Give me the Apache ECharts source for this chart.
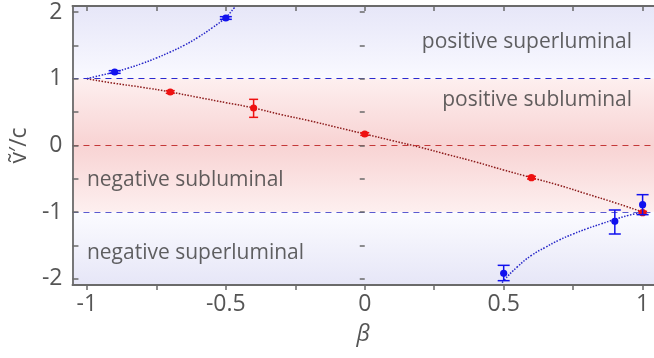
<!DOCTYPE html>
<html>
<head>
<meta charset="utf-8">
<script src="https://cdn.jsdelivr.net/npm/echarts@6/dist/echarts.min.js"></script>
<style>
  html, body { margin: 0; padding: 0; background: #fff; }
  #main { width: 654px; height: 358px; }
</style>
</head>
<body>
<div id="main"></div>
<script>
// tick positions / labels
var xTicks = [-1, -0.75, -0.5, -0.25, 0, 0.25, 0.5, 0.75, 1];
var xLabels = [-1, -0.5, 0, 0.5, 1];
var yTicks = [-2, -1.5, -1, -0.5, 0, 0.5, 1, 1.5, 2];
var yLabels = [-2, -1, 0, 1, 2];
var refLevels = [1, 0, -1];

// measured points: beta, v, low, high
var blueX = [-0.9, -0.5, 0.5, 0.9, 1.0];
var blueY = [1.10, 1.91, -1.92, -1.14, -0.89];
var blueLo = [1.08, 1.89, -2.03, -1.33, -1.04];
var blueHi = [1.12, 1.93, -1.80, -0.97, -0.74];

var redX = [-0.7, -0.4, 0, 0.6, 1.0];
var redY = [0.80, 0.56, 0.17, -0.485, -1.01];
var redLo = [0.78, 0.42, 0.15, -0.505, -1.03];
var redHi = [0.82, 0.69, 0.19, -0.465, -0.99];

// dotted guide curves
var redCurveX = [-1, -0.9, -0.8, -0.7, -0.6, -0.5, -0.4, -0.3, -0.2, -0.1, 0, 0.1, 0.2, 0.3, 0.4, 0.5, 0.6, 0.7, 0.8, 0.9, 1];
var redCurveY = [1.0, 0.93, 0.87, 0.80, 0.72, 0.64, 0.56, 0.46, 0.37, 0.27, 0.17, 0.07, -0.03, -0.14, -0.25, -0.37, -0.485, -0.60, -0.73, -0.86, -1.0];
var blueUpX = [-1, -0.95, -0.9, -0.85, -0.8, -0.75, -0.7, -0.65, -0.6, -0.55, -0.5, -0.47, -0.45];
var blueUpY = [1.0, 1.05, 1.10, 1.16, 1.23, 1.31, 1.40, 1.50, 1.62, 1.76, 1.92, 2.06, 2.16];
var blueLowX = [0.49, 0.5, 0.55, 0.6, 0.65, 0.7, 0.75, 0.8, 0.85, 0.9, 0.95, 1];
var blueLowY = [-2.1, -2.03, -1.82, -1.65, -1.53, -1.42, -1.33, -1.25, -1.18, -1.11, -1.05, -1.0];

var regionNames = ['positive superluminal', 'positive subluminal', 'negative subluminal', 'negative superluminal'];

function zip(a, b) {
  var out = [];
  for (var i = 0; i < a.length; i++) out.push([a[i], b[i]]);
  return out;
}
function rows(x, y, lo, hi) {
  var out = [];
  for (var i = 0; i < x.length; i++) out.push([x[i], y[i], lo[i], hi[i]]);
  return out;
}

function errRender(color, cap) {
  return function (params, api) {
    var x = api.value(0);
    var p = api.coord([x, api.value(1)]);
    var pl = api.coord([x, api.value(2)]);
    var ph = api.coord([x, api.value(3)]);
    var s = { stroke: color, lineWidth: 1.5 };
    return {
      type: 'group',
      children: [
        { type: 'line', shape: { x1: pl[0], y1: pl[1], x2: ph[0], y2: ph[1] }, style: s },
        { type: 'line', shape: { x1: pl[0] - cap, y1: pl[1], x2: pl[0] + cap, y2: pl[1] }, style: s },
        { type: 'line', shape: { x1: ph[0] - cap, y1: ph[1], x2: ph[0] + cap, y2: ph[1] }, style: s },
        { type: 'circle', shape: { cx: p[0], cy: p[1], r: 3.6 }, style: { fill: color } }
      ]
    };
  };
}

var FONT = '"Open Sans", "Noto Sans", sans-serif';
var XMIN = -1.052, XMAX = 1.041, YMIN = -2.095, YMAX = 2.09;
var frame = { show: true, onZero: false, lineStyle: { color: '#6a6a6a', width: 1.8 } };
var tickLine = { color: '#6a6a6a', width: 1.5 };

// background bands: lavender above/below |v|=1, pink peaking at v=0
var bandFill = new echarts.graphic.LinearGradient(0, 0, 0, 1, [
  { offset: 0, color: '#e6e6f8' },
  { offset: 0.258, color: '#f9f9ff' },
  { offset: 0.262, color: '#fdefef' },
  { offset: 0.499, color: '#f8d3d3' },
  { offset: 0.736, color: '#fdefef' },
  { offset: 0.740, color: '#fbfbff' },
  { offset: 1, color: '#e6e6f7' }
]);

var chart = echarts.init(document.getElementById('main'), null, { renderer: 'canvas' });

var option = {
  animation: false,
  textStyle: { fontFamily: FONT },
  grid: { left: 69, right: 0, top: 6, bottom: 73 },
  xAxis: [
    {
      type: 'value', min: XMIN, max: XMAX, position: 'bottom', z: 10,
      name: 'β', nameLocation: 'middle', nameGap: 38,
      nameTextStyle: { fontSize: 23, fontStyle: 'italic', color: '#555', fontFamily: FONT },
      axisLine: frame,
      axisTick: { show: true, inside: false, length: 5, customValues: xTicks, lineStyle: tickLine },
      axisLabel: { customValues: xLabels, fontSize: 23, color: '#555', margin: 8 },
      splitLine: { show: false }
    },
    {
      type: 'value', min: XMIN, max: XMAX, position: 'top', z: 10,
      axisLine: frame,
      axisTick: { show: true, inside: true, length: 5, customValues: xTicks, lineStyle: tickLine },
      axisLabel: { show: false },
      splitLine: { show: false }
    }
  ],
  yAxis: [
    {
      type: 'value', min: YMIN, max: YMAX, position: 'left', z: 10,
      name: 'v\u0303\u2032/c', nameLocation: 'middle', nameGap: 40,
      nameTextStyle: { fontSize: 23, color: '#555', fontFamily: FONT },
      axisLine: frame,
      axisTick: { show: true, inside: true, length: 6, customValues: yTicks, lineStyle: tickLine },
      axisLabel: { customValues: yLabels, fontSize: 23, color: '#555', margin: 10 },
      splitLine: { show: false }
    },
    {
      type: 'value', min: YMIN, max: YMAX, position: 'right', z: 10,
      axisLine: { show: false },
      axisTick: { show: true, inside: true, length: 5, customValues: yTicks, lineStyle: tickLine },
      axisLabel: { show: false },
      splitLine: { show: false }
    }
  ],
  series: [
    {
      name: 'levels', type: 'line', data: [], silent: true, z: 1,
      markArea: {
        silent: true,
        itemStyle: { color: bandFill },
        data: [[{ xAxis: XMIN, yAxis: YMIN }, { xAxis: XMAX, yAxis: YMAX }]]
      },
      markLine: {
        symbol: ['none', 'none'], silent: true, label: { show: false },
        data: [
          { yAxis: refLevels[0], lineStyle: { color: '#2a2ad0', type: [6, 5], width: 1.2 } },
          { yAxis: refLevels[1], lineStyle: { color: '#c43838', type: [6, 5], width: 1.2 } },
          { yAxis: refLevels[2], lineStyle: { color: '#5a5ad0', type: [6, 5], width: 1.2 } }
        ]
      }
    },
    {
      name: 'red curve', type: 'line', data: zip(redCurveX, redCurveY), showSymbol: false, smooth: true,
      lineStyle: { color: '#8c1a1a', width: 1.5, type: [1.5, 1.5] }
    },
    {
      name: 'blue upper', type: 'line', data: zip(blueUpX, blueUpY), showSymbol: false, smooth: true,
      lineStyle: { color: '#2626c8', width: 1.5, type: [1.5, 1.5] }
    },
    {
      name: 'blue lower', type: 'line', data: zip(blueLowX, blueLowY), showSymbol: false, smooth: true,
      lineStyle: { color: '#2626c8', width: 1.5, type: [1.5, 1.5] }
    },
    {
      name: 'red points', type: 'custom', renderItem: errRender('#ee1111', 4.5),
      data: rows(redX, redY, redLo, redHi), encode: { x: 0, y: 1 }, z: 5
    },
    {
      name: 'blue points', type: 'custom', renderItem: errRender('#1111ee', 6),
      data: rows(blueX, blueY, blueLo, blueHi), encode: { x: 0, y: 1 }, z: 5
    },
    {
      name: 'regions', type: 'scatter', symbolSize: 0, silent: true, z: 6,
      label: { show: true, fontSize: 21, color: '#3a3a3a', fontFamily: FONT },
      data: [
        { value: [0.962, 1.555], label: { formatter: regionNames[0], position: 'left', distance: 0 } },
        { value: [0.962, 0.68], label: { formatter: regionNames[1], position: 'left', distance: 0 } },
        { value: [-1.0, -0.52], label: { formatter: regionNames[2], position: 'right', distance: 0 } },
        { value: [-1.0, -1.62], label: { formatter: regionNames[3], position: 'right', distance: 0 } }
      ]
    }
  ]
};

chart.setOption(option);
</script>
</body>
</html>
